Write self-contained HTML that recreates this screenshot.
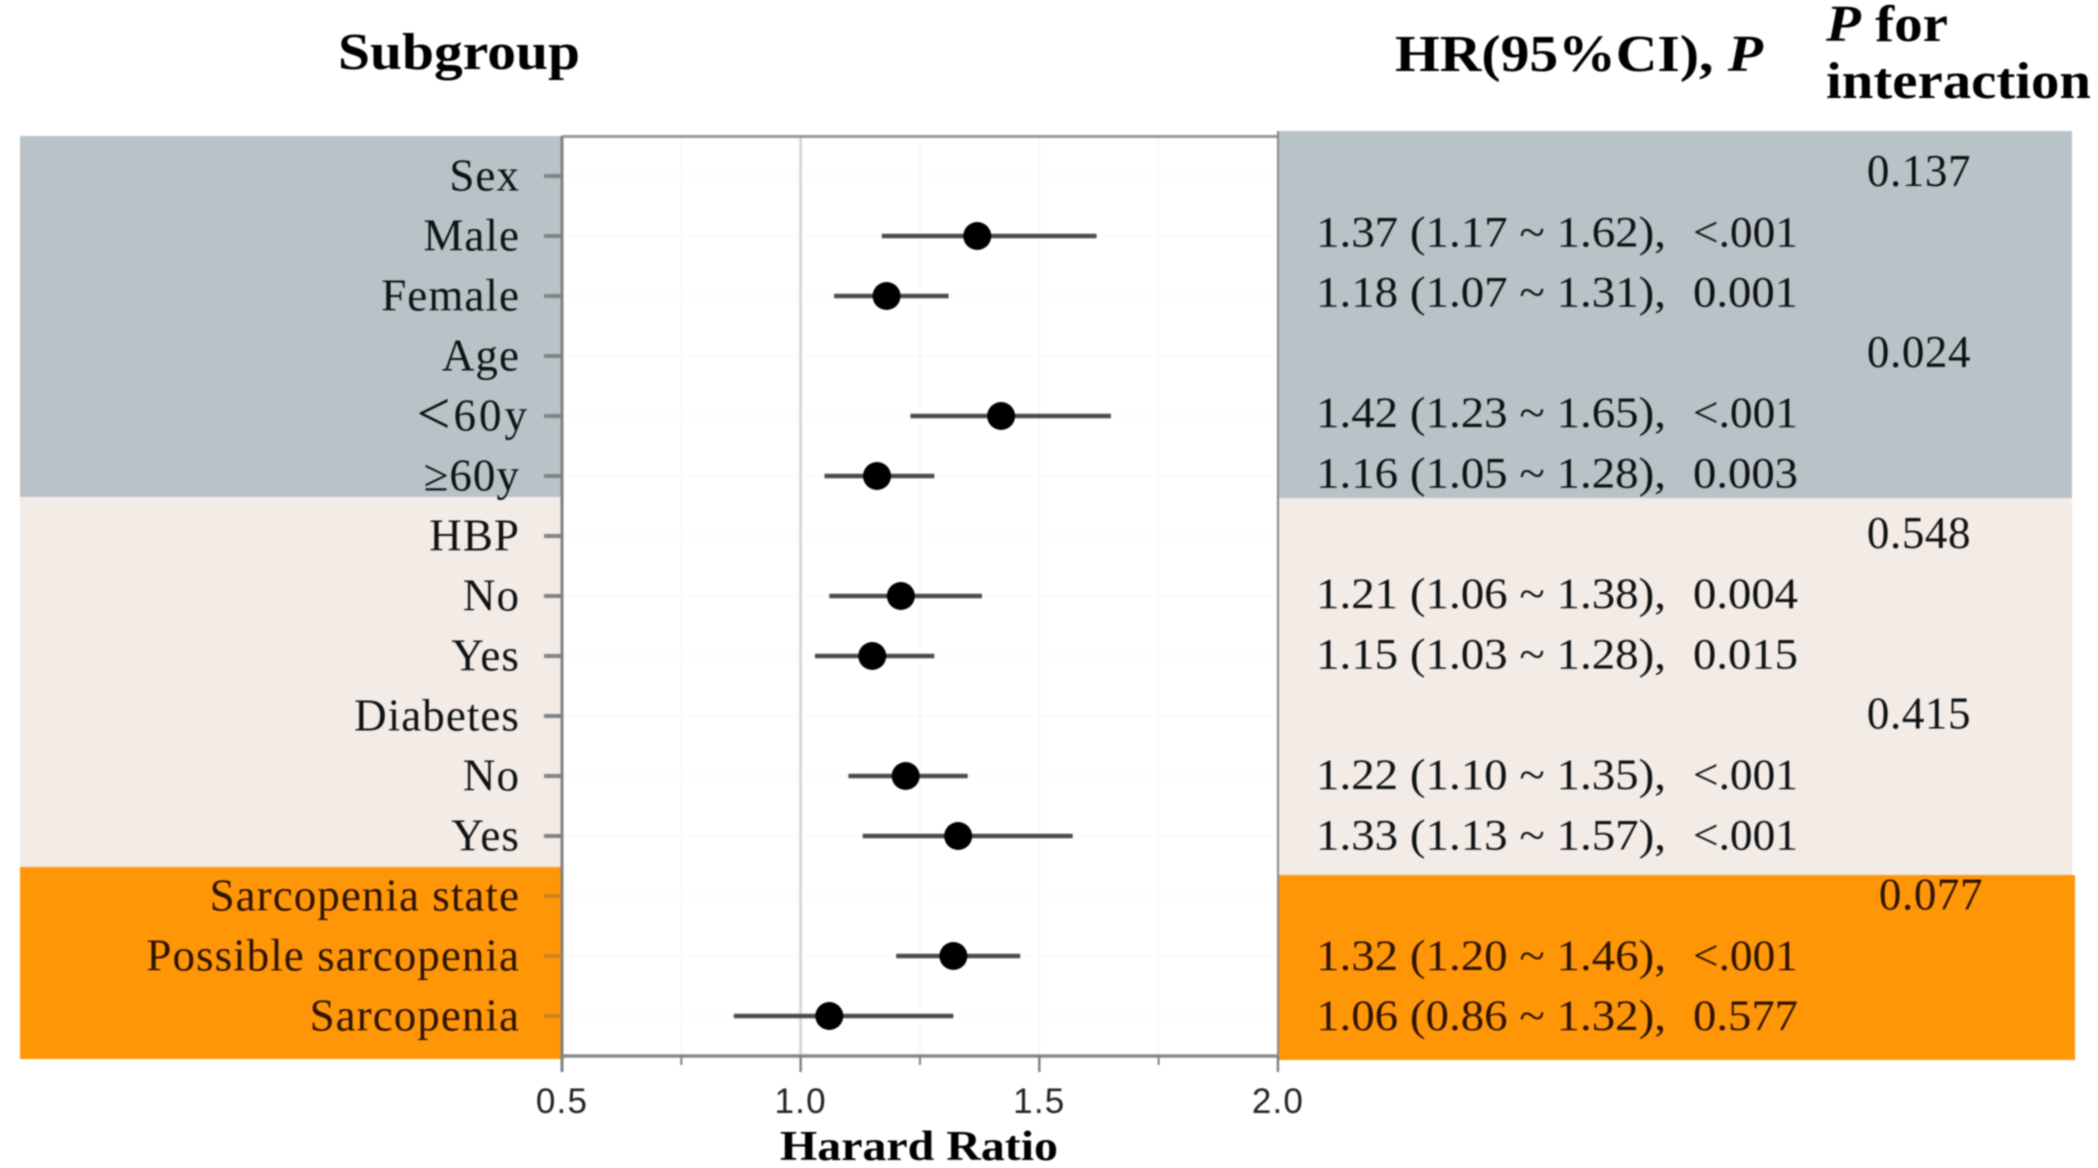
<!DOCTYPE html>
<html lang="en">
<head>
<meta charset="utf-8">
<title>Forest plot of hazard ratios by subgroup</title>
<style>
  html, body { margin: 0; padding: 0; background: #fff; width: 2098px; height: 1168px; overflow: hidden; }
  svg { display: block; filter: blur(0.8px); }
  .serif { font-family: "Liberation Serif", serif; }
  .sans { font-family: "Liberation Sans", sans-serif; }
  .pre { white-space: pre; }
</style>
</head>
<body>
<svg id="chart" xmlns="http://www.w3.org/2000/svg" width="2098" height="1168" viewBox="0 0 2098 1168">
  <rect x="0" y="0" width="2098" height="1168" fill="#ffffff"/>

  <rect x="20" y="136" width="542" height="361" fill="#b8c2c7"/>
  <rect x="20" y="497" width="542" height="370" fill="#f2ebe6"/>
  <rect x="20" y="867" width="542" height="192" fill="#ff9608"/>

  <rect x="1278" y="131" width="794" height="367" fill="#b8c2c7"/>
  <rect x="1278" y="498" width="794" height="377" fill="#f2ebe6"/>
  <rect x="1278" y="875" width="797" height="185" fill="#ff9608"/>

  <text class="serif" x="338" y="69" font-size="52" font-weight="700" fill="#000" textLength="242" lengthAdjust="spacingAndGlyphs">Subgroup</text>
  <text class="serif" x="1395" y="71" font-size="52" font-weight="700" fill="#000" textLength="368" lengthAdjust="spacingAndGlyphs">HR(95%CI), <tspan font-style="italic">P</tspan></text>
  <text class="serif" x="1826" y="41" font-size="52" font-weight="700" fill="#000" textLength="122" lengthAdjust="spacingAndGlyphs"><tspan font-style="italic">P</tspan> for</text>
  <text class="serif" x="1826" y="98" font-size="52" font-weight="700" fill="#000" textLength="265" lengthAdjust="spacingAndGlyphs">interaction</text>
  <text class="serif" x="780" y="1160" font-size="42" font-weight="700" fill="#000" textLength="278" lengthAdjust="spacingAndGlyphs">Harard Ratio</text>

  <g id="grid"></g>
  <g id="axes"></g>
  <g id="marks"></g>
  <g id="labels"></g>
  <g id="table"></g>
</svg>

<script>
const subgroupLabels = ["Sex","Male","Female","Age","<60y","\u226560y","HBP","No","Yes","Diabetes","No","Yes","Sarcopenia state","Possible sarcopenia","Sarcopenia"];
const hazardRatios = [null,1.37,1.18,null,1.42,1.16,null,1.21,1.15,null,1.22,1.33,null,1.32,1.06];
const ciLower = [null,1.17,1.07,null,1.23,1.05,null,1.06,1.03,null,1.10,1.13,null,1.20,0.86];
const ciUpper = [null,1.62,1.31,null,1.65,1.28,null,1.38,1.28,null,1.35,1.57,null,1.46,1.32];
const pValues = [null,"<.001","0.001",null,"<.001","0.003",null,"0.004","0.015",null,"<.001","<.001",null,"<.001","0.577"];
const interactionValues = ["0.137",null,null,"0.024",null,null,"0.548",null,null,"0.415",null,null,"0.077",null,null];
const majorTicks = [0.5,1.0,1.5,2.0];
const minorTicks = [0.75,1.25,1.75];
const referenceValue = 1.0;

const NS = "http://www.w3.org/2000/svg";
const xScale = v => 562 + (v - 0.5) * 477.3;
const rowY = i => 176 + 60 * i;
const tableBaseline = i => 186 + 60.3 * i;
const inkColor = i => i >= 12 ? "#2e1300" : "#0e1214";
const tickColor = i => i >= 12 ? "#cc8420" : "#808486";

function make(tag, attrs, parent, text) {
  const el = document.createElementNS(NS, tag);
  for (const k in attrs) el.setAttribute(k, attrs[k]);
  if (text !== undefined) el.textContent = text;
  parent.appendChild(el);
  return el;
}

const gridG = document.getElementById("grid");
const axesG = document.getElementById("axes");
const marksG = document.getElementById("marks");
const labelsG = document.getElementById("labels");
const tableG = document.getElementById("table");

/* faint gridlines */
subgroupLabels.forEach((_, i) => {
  const g = make("line", {x1: 562, x2: 1278, y1: rowY(i), y2: rowY(i), stroke: "#fafafa", "stroke-width": 1.5}, gridG);
  
  
});
majorTicks.concat(minorTicks).forEach(v => {
  const g = make("line", {x1: xScale(v), x2: xScale(v), y1: 137, y2: 1056, stroke: "#f6f6f6", "stroke-width": 1.5}, gridG);
  
  
});
const refLine = make("line", {x1: xScale(referenceValue), x2: xScale(referenceValue), y1: 137, y2: 1056, stroke: "#d8d8d8", "stroke-width": 3}, gridG);



/* axes */
const topBorder = make("line", {x1: 562, x2: 1278, y1: 136.5, y2: 136.5, stroke: "#9a9a9a", "stroke-width": 3}, axesG);


const leftAxis = make("line", {x1: 562, x2: 562, y1: 136, y2: 1072, stroke: "#808080", "stroke-width": 3}, axesG);


const rightBorder = make("line", {x1: 1278, x2: 1278, y1: 131, y2: 1072, stroke: "#808a90", "stroke-width": 2}, axesG);


const xAxis = make("line", {x1: 562, x2: 1278, y1: 1056, y2: 1056, stroke: "#8a8a8a", "stroke-width": 3.5}, axesG);



majorTicks.forEach(v => {
  const t = make("line", {x1: xScale(v), x2: xScale(v), y1: 1056, y2: 1072, stroke: "#808080", "stroke-width": 2.5}, axesG);
  
  
  const l = make("text", {x: xScale(v), y: 1113, "text-anchor": "middle", "font-size": 35, "letter-spacing": 1.2, fill: "#222", class: "sans"}, axesG, v.toFixed(1));
  
  
});
minorTicks.forEach(v => {
  const t = make("line", {x1: xScale(v), x2: xScale(v), y1: 1056, y2: 1065, stroke: "#808080", "stroke-width": 2}, axesG);
  
  
});

/* rows */
subgroupLabels.forEach((label, i) => {
  const tick = make("line", {x1: 544, x2: 562, y1: rowY(i), y2: rowY(i), stroke: tickColor(i), "stroke-width": 4}, axesG);
  
  

  const isUnder = label.charAt(0) === "<";
  const text = make("text", {x: isUnder ? 530 : 520, y: rowY(i) + 14.5, "text-anchor": "end", "font-size": 45, "letter-spacing": isUnder ? 3 : 1.05, fill: inkColor(i), class: "serif"}, labelsG);
  
  
  if (isUnder) {
    make("tspan", {"font-size": 60, dy: 3}, text, "<");
    make("tspan", {dy: -3}, text, label.slice(1));
  } else {
    text.textContent = label;
  }

  if (hazardRatios[i] !== null) {
    const ci = make("line", {x1: xScale(ciLower[i]), x2: xScale(ciUpper[i]), y1: rowY(i), y2: rowY(i), stroke: "#4d4d4d", "stroke-width": 4.5}, marksG);
    
    
    const pt = make("circle", {cx: xScale(hazardRatios[i]), cy: rowY(i), r: 14, fill: "#000"}, marksG);
    
    

    const hrText = hazardRatios[i].toFixed(2) + " (" + ciLower[i].toFixed(2) + " ~ " + ciUpper[i].toFixed(2) + "),";
    const hr = make("text", {x: 1316, y: tableBaseline(i), "font-size": 43, fill: inkColor(i), class: "serif pre", textLength: 350, lengthAdjust: "spacingAndGlyphs"}, tableG, hrText);
    
    
    const p = make("text", {x: 1693, y: tableBaseline(i), "font-size": 43, fill: inkColor(i), class: "serif", textLength: 105, lengthAdjust: "spacingAndGlyphs"}, tableG, pValues[i]);
    
    
  }

  if (interactionValues[i] !== null) {
    const ip = make("text", {x: i >= 12 ? 1931 : 1919, y: tableBaseline(i), "text-anchor": "middle", "font-size": 45, "letter-spacing": 0.6, fill: inkColor(i), class: "serif"}, tableG, interactionValues[i]);
    
    
  }
});
</script>
</body>
</html>
